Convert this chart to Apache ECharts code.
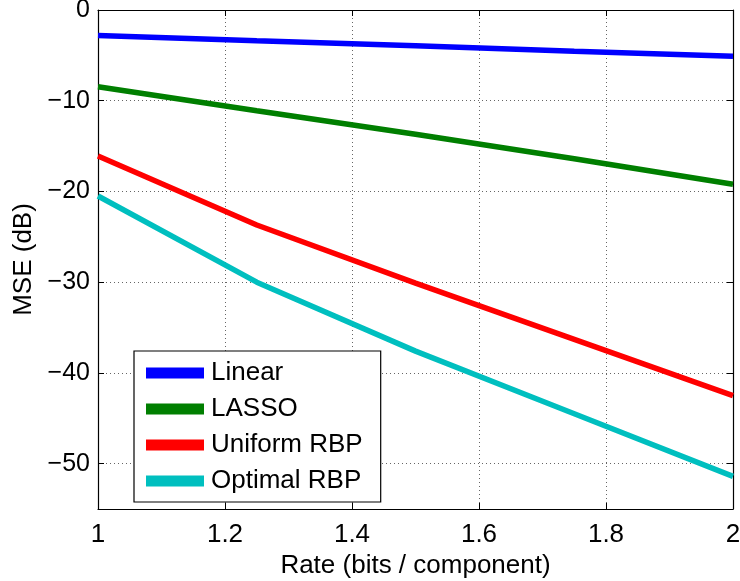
<!DOCTYPE html>
<html>
<head>
<meta charset="utf-8">
<script src="https://cdn.jsdelivr.net/npm/echarts@6/dist/echarts.min.js"></script>
<style>
  html, body { margin: 0; padding: 0; background: #fff; }
  #chart { width: 740px; height: 581px; }
</style>
</head>
<body>
<div id="chart"></div>
<script>
// Rate in bits per component
const rates = [1, 1.25, 1.5, 1.75, 2];

// MSE in dB for each reconstruction method
const linearMse = [-2.8, -3.4, -3.95, -4.55, -5.1];
const lassoMse = [-8.45, -11.1, -13.7, -16.4, -19.2];
const uniformRbpMse = [-16.1, -23.7, -30.1, -36.3, -42.5];
const optimalRbpMse = [-20.5, -30.0, -37.6, -44.5, -51.4];

const seriesNames = ['Linear', 'LASSO', 'Uniform RBP', 'Optimal RBP'];
const seriesColors = ['#0000ff', '#007f00', '#ff0000', '#00bfbf'];
const seriesValues = [linearMse, lassoMse, uniformRbpMse, optimalRbpMse];

const FONT = '"Liberation Sans", Helvetica, Arial, sans-serif';
const minus = v => String(v).replace('-', '\u2212');

const gridLine = { show: true, lineStyle: { color: '#666', width: 1, type: [1, 3] } };
const tickIn = { show: true, inside: true, length: 6, lineStyle: { color: '#000', width: 1 } };
const axisLine = { show: true, onZero: false, lineStyle: { color: '#000', width: 1.2 } };

const chart = echarts.init(document.getElementById('chart'), null, { renderer: 'canvas' });

chart.setOption({
  animation: false,
  backgroundColor: '#fff',
  textStyle: { fontFamily: FONT },
  grid: { left: 98, right: 7, top: 10, bottom: 72, containLabel: false, outerBoundsMode: 'none' },
  legend: {
    show: true,
    orient: 'vertical',
    left: 134,
    top: 351,
    padding: [9, 18, 8, 12],
    itemGap: 10,
    itemWidth: 58,
    itemHeight: 26,
    borderColor: '#000',
    borderWidth: 1.2,
    backgroundColor: '#fff',
    icon: 'path://M0,0 L1,0 L1,0.19 L0,0.19 Z',
    textStyle: { fontFamily: FONT, fontSize: 26, color: '#000', padding: [0, 0, 0, 2] },
    data: seriesNames.map((n, i) => ({ name: n, itemStyle: { color: seriesColors[i] } }))
  },
  xAxis: [
    {
      type: 'value',
      min: 1,
      max: 2,
      interval: 0.2,
      name: 'Rate (bits / component)',
      nameLocation: 'middle',
      nameGap: 42,
      nameTextStyle: { fontFamily: FONT, fontSize: 26, color: '#000' },
      axisLine: axisLine,
      axisTick: tickIn,
      splitLine: gridLine,
      axisLabel: { fontFamily: FONT, fontSize: 26, color: '#000', margin: 13 }
    },
    {
      type: 'value',
      position: 'top',
      min: 1,
      max: 2,
      interval: 0.2,
      axisLine: axisLine,
      axisTick: tickIn,
      splitLine: { show: false },
      axisLabel: { show: false }
    }
  ],
  yAxis: [
    {
      type: 'value',
      min: -55,
      max: 0,
      splitNumber: 5,
      name: 'MSE (dB)',
      nameLocation: 'middle',
      nameGap: 58,
      nameRotate: 90,
      nameTextStyle: { fontFamily: FONT, fontSize: 26, color: '#000' },
      axisLine: axisLine,
      axisTick: tickIn,
      splitLine: gridLine,
      axisLabel: {
        fontFamily: FONT, fontSize: 25, color: '#000', margin: 8,
        showMinLabel: false,
        formatter: v => (v % 10 === 0 ? minus(v) : '')
      }
    },
    {
      type: 'value',
      position: 'right',
      min: -55,
      max: 0,
      splitNumber: 5,
      axisLine: axisLine,
      axisTick: tickIn,
      splitLine: { show: false },
      axisLabel: { show: false }
    }
  ],
  series: seriesNames.map((name, i) => ({
    name: name,
    type: 'line',
    xAxisIndex: 0,
    yAxisIndex: 0,
    data: rates.map((r, j) => [r, seriesValues[i][j]]),
    showSymbol: false,
    symbol: 'none',
    lineStyle: { color: seriesColors[i], width: 5.5 },
    itemStyle: { color: seriesColors[i] },
    z: 3 + i
  }))
});
</script>
</body>
</html>
